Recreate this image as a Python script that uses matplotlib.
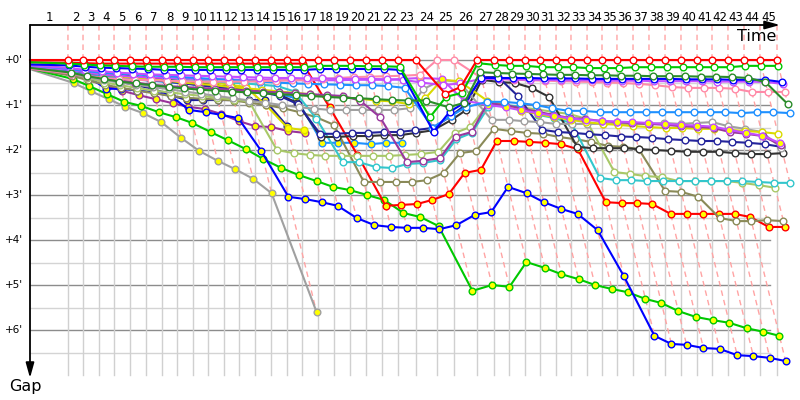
import matplotlib
matplotlib.use("Agg")
import matplotlib.pyplot as plt

# leader crossing time (minutes) at the end of each lap, index 0 = start
leader_time = [0.0,
    3.45, 4.82, 6.27, 7.64, 9.09, 10.55, 12.0, 13.36, 14.82, 16.18,
    17.64, 19.0, 20.45, 21.91, 23.36, 24.73, 26.18, 27.64, 29.09, 30.55,
    32.0, 33.45, 35.09, 37.0, 38.55, 40.64, 42.18, 43.55, 45.0, 46.36,
    47.82, 49.18, 50.64, 52.0, 53.36, 54.82, 56.27, 57.73, 59.18, 60.64,
    62.0, 63.45, 64.91, 66.36, 67.91]
laps = list(range(1, 46))
gap_ticks = [0, 1, 2, 3, 4, 5, 6]

# gap to the leader (minutes) per lap, index 0 = start
gap_red_w = [0.0,
    0, 0, 0, 0, 0, 0, 0, 0, 0, 0,
    0, 0, 0, 0, 0, 0, 0, 0, 0, 0,
    0, 0, 0, 0.75, 0.6, 0, 0, 0, 0, 0,
    0, 0, 0, 0, 0, 0, 0, 0, 0, 0,
    0, 0, 0, 0, 0]
gap_red_y = [0.05,
    0.06, 0.07, 0.08, 0.08, 0.08, 0.08, 0.08, 0.08, 0.08, 0.08,
    0.08, 0.08, 0.08, 0.08, 0.08, 0.08, 1.05, 2.1, 3.24, 3.22,
    3.2, 3.11, 2.98, 2.51, 2.44, 1.8, 1.8, 1.82, 1.84, 1.87,
    1.98, 3.16, 3.18, 3.18, 3.2, 3.42, 3.42, 3.42, 3.42, 3.42,
    3.49, 3.71, 3.71]
gap_green_w = [0.05,
    0.08, 0.1, 0.12, 0.13, 0.14, 0.15, 0.15, 0.15, 0.16, 0.16,
    0.16, 0.16, 0.16, 0.16, 0.16, 0.16, 0.13, 0.13, 0.13, 0.14,
    0.14, 0.15, 1.27, 0.82, 0.73, 0.07, 0.11, 0.13, 0.13, 0.16,
    0.16, 0.16, 0.18, 0.18, 0.18, 0.16, 0.16, 0.16, 0.16, 0.16,
    0.16, 0.16, 0.13, 0.13, 0.13]
gap_dkgreen_w = [0.18,
    0.28, 0.36, 0.42, 0.48, 0.52, 0.56, 0.6, 0.63, 0.66, 0.68,
    0.7, 0.72, 0.74, 0.76, 0.78, 0.8, 0.82, 0.84, 0.85, 0.87,
    0.89, 0.9, 0.9, 1.05, 0.95, 0.27, 0.29, 0.3, 0.31, 0.32,
    0.33, 0.33, 0.34, 0.34, 0.35, 0.35, 0.36, 0.36, 0.36, 0.37,
    0.37, 0.38, 0.4, 0.49, 0.98]
gap_blue_w = [0.1,
    0.12, 0.15, 0.17, 0.18, 0.19, 0.2, 0.22, 0.22, 0.22, 0.22,
    0.22, 0.22, 0.22, 0.22, 0.22, 0.22, 0.2, 0.2, 0.2, 0.2,
    0.2, 0.22, 1.6, 1.15, 0.95, 0.4, 0.4, 0.4, 0.4, 0.41,
    0.41, 0.41, 0.42, 0.42, 0.42, 0.42, 0.42, 0.42, 0.43, 0.43,
    0.43, 0.44, 0.44, 0.44, 0.49]
gap_navy_w = [0.15,
    0.22, 0.28, 0.32, 0.36, 0.4, 0.44, 0.48, 0.52, 0.56, 0.6,
    0.64, 0.68, 0.72, 0.8, 0.98, 1.64, 1.64, 1.62, 1.62, 1.6,
    1.6, 1.56, 1.51, 1.25, 1.0, 0.38, 0.38, 0.8, 1.55, 1.6,
    1.62, 1.65, 1.67, 1.7, 1.71, 1.73, 1.76, 1.78, 1.8, 1.8,
    1.82, 1.84, 1.87, 1.93]
gap_black_w = [0.13,
    0.2, 0.25, 0.3, 0.33, 0.36, 0.4, 0.44, 0.48, 0.52, 0.56,
    0.6, 0.65, 0.7, 0.78, 0.95, 1.71, 1.71, 1.69, 1.69, 1.67,
    1.67, 1.62, 1.56, 1.33, 1.11, 0.44, 0.49, 0.51, 0.62, 0.82,
    1.93, 1.96, 1.96, 1.96, 1.98, 2.0, 2.02, 2.04, 2.04, 2.04,
    2.07, 2.09, 2.09, 2.07]
gap_pink_w = [0.2,
    0.3, 0.35, 0.4, 0.42, 0.44, 0.45, 0.46, 0.47, 0.48, 0.48,
    0.48, 0.48, 0.47, 0.46, 0.45, 0.44, 0.42, 0.4, 0.38, 0.37,
    0.36, 0.35, 0.33, 0.0, 0.0, 0.4, 0.42, 0.44, 0.45, 0.46,
    0.47, 0.48, 0.49, 0.5, 0.51, 0.53, 0.56, 0.6, 0.62, 0.62,
    0.62, 0.64, 0.71, 0.71, 0.71]
gap_violet_w = [0.12,
    0.18, 0.22, 0.25, 0.28, 0.3, 0.32, 0.33, 0.34, 0.35, 0.36,
    0.37, 0.38, 0.39, 0.4, 0.4, 0.41, 0.41, 0.42, 0.42, 0.42,
    0.43, 0.44, 0.5, 0.56, 0.52, 0.42, 0.42, 0.43, 0.44, 0.44,
    0.45, 0.45, 0.45, 0.46, 0.46, 0.46, 0.47, 0.47, 0.47, 0.47,
    0.48, 0.48, 0.48, 0.49, 0.53]
gap_violet_y = [0.15,
    0.22, 0.28, 0.32, 0.35, 0.37, 0.39, 0.4, 0.41, 0.42, 0.43,
    0.43, 0.44, 0.44, 0.45, 0.45, 0.45, 0.45, 0.45, 0.44, 0.44,
    0.44, 0.42, 0.4, 0.42, 0.9, 1.0, 1.05, 1.12, 1.18, 1.24,
    1.3, 1.33, 1.35, 1.37, 1.38, 1.4, 1.42, 1.44, 1.46, 1.48,
    1.55, 1.62, 1.68, 1.85]
gap_purple_w = [0.2,
    0.3, 0.35, 0.4, 0.45, 0.5, 0.55, 0.58, 0.6, 0.62, 0.64,
    0.66, 0.68, 0.7, 0.72, 0.74, 0.76, 0.78, 0.8, 0.9, 1.27,
    2.27, 2.24, 2.18, 1.7, 1.6, 0.96, 1.0, 1.07, 1.15, 1.22,
    1.29, 1.31, 1.36, 1.38, 1.4, 1.42, 1.44, 1.47, 1.49, 1.51,
    1.6, 1.64, 1.69, 1.89]
gap_gray_w = [0.2,
    0.3, 0.38, 0.45, 0.5, 0.55, 0.6, 0.65, 0.7, 0.75, 0.8,
    0.85, 0.9, 0.95, 1.0, 1.05, 1.08, 1.11, 1.11, 1.11, 1.11,
    1.11, 1.07, 0.65, 0.44, 0.49, 1.33, 1.33, 1.36, 1.38, 1.42,
    1.42, 1.42, 1.42, 1.42, 1.42, 1.42, 1.4, 1.42, 1.4, 1.38,
    1.47, 1.53, 1.6, 1.95]
gap_yellow_w = [0.1,
    0.2, 0.27, 0.32, 0.36, 0.4, 0.43, 0.46, 0.5, 0.53, 0.56,
    0.6, 0.63, 0.66, 0.7, 0.73, 0.76, 0.8, 0.83, 0.86, 0.9,
    0.92, 0.98, 0.85, 0.44, 0.47, 0.9, 1.0, 1.13, 1.2, 1.27,
    1.33, 1.38, 1.42, 1.44, 1.47, 1.49, 1.51, 1.51, 1.53, 1.53,
    1.55, 1.58, 1.6, 1.64]
gap_dodger_w = [0.12,
    0.2, 0.25, 0.28, 0.3, 0.32, 0.34, 0.36, 0.38, 0.4, 0.42,
    0.44, 0.46, 0.48, 0.5, 0.52, 0.53, 0.54, 0.55, 0.56, 0.56,
    0.58, 0.62, 1.5, 1.25, 1.05, 0.93, 0.93, 0.96, 1.0, 1.07,
    1.13, 1.13, 1.16, 1.16, 1.16, 1.16, 1.16, 1.16, 1.16, 1.16,
    1.16, 1.18, 1.16, 1.16, 1.18]
gap_cyan_w = [0.15,
    0.25, 0.3, 0.33, 0.36, 0.38, 0.4, 0.42, 0.44, 0.46, 0.48,
    0.5, 0.52, 0.55, 0.58, 0.7, 1.3, 2.27, 2.27, 2.38, 2.4,
    2.31, 2.29, 2.22, 1.76, 1.62, 1.04, 1.0, 1.04, 1.22, 1.29,
    1.4, 2.62, 2.67, 2.67, 2.69, 2.69, 2.69, 2.69, 2.69, 2.69,
    2.69, 2.71, 2.73, 2.73]
gap_lolive_w = [0.18,
    0.3, 0.4, 0.5, 0.56, 0.62, 0.68, 0.72, 0.76, 0.8, 0.84,
    0.88, 0.92, 2.0, 2.07, 2.11, 2.13, 2.13, 2.13, 2.13, 2.13,
    2.11, 2.09, 2.04, 1.62, 1.49, 0.98, 1.0, 1.05, 1.1, 1.15,
    1.2, 1.3, 2.49, 2.53, 2.58, 2.6, 2.69, 2.69, 2.69, 2.69,
    2.73, 2.78, 2.84]
gap_olive_w = [0.2,
    0.35, 0.45, 0.55, 0.62, 0.68, 0.74, 0.8, 0.84, 0.86, 0.88,
    0.9, 0.95, 1.0, 1.07, 1.16, 1.27, 1.44, 2.71, 2.71, 2.71,
    2.71, 2.67, 2.51, 2.07, 2.02, 1.53, 1.58, 1.62, 1.64, 1.71,
    1.76, 1.82, 1.91, 1.93, 1.98, 2.91, 2.93, 3.04, 3.51, 3.58,
    3.58, 3.56, 3.58]
gap_green_y = [0.2,
    0.42, 0.58, 0.76, 0.93, 1.02, 1.16, 1.27, 1.4, 1.6, 1.78,
    1.98, 2.2, 2.4, 2.56, 2.69, 2.82, 2.89, 3.0, 3.11, 3.4,
    3.49, 3.69, 5.13, 5.0, 5.04, 4.49, 4.62, 4.76, 4.87, 5.0,
    5.09, 5.16, 5.31, 5.4, 5.58, 5.71, 5.78, 5.84, 5.96, 6.04,
    6.13]
gap_blue_y = [0.12,
    0.22, 0.35, 0.64, 0.64, 0.68, 0.72, 0.8, 1.11, 1.16, 1.22,
    1.29, 2.02, 3.04, 3.09, 3.16, 3.24, 3.51, 3.67, 3.71, 3.73,
    3.73, 3.76, 3.67, 3.44, 3.38, 2.82, 2.96, 3.16, 3.31, 3.42,
    3.78, 4.8, 6.13, 6.31, 6.33, 6.4, 6.42, 6.56, 6.58, 6.62,
    6.69]
gap_gray_y = [0.22, 0.51, 0.69, 0.87, 1.04, 1.18, 1.38, 1.73, 2.02, 2.24, 2.42, 2.64, 2.96, 5.6]
gap_navy_y = [0.15, 0.25, 0.35, 0.42, 0.48, 0.56, 0.64, 0.78, 0.89, 0.89, 0.89, 0.89, 0.89, 0.89, 1.47]
gap_purple_y = [0.18, 0.3, 0.44, 0.56, 0.68, 0.78, 0.87, 0.96, 1.04, 1.09, 1.2, 1.36, 1.47, 1.49, 1.58, 1.62]
gap_yellow_y = [0.12, 0.25, 0.35, 0.4, 0.42, 0.43, 0.44, 0.45, 0.46, 0.47, 0.5, 0.55, 0.6, 1.0, 1.51, 1.56]
gap_dodger_y = [0.15, 0.25, 0.32, 0.37, 0.4, 0.43, 0.46, 0.49, 0.52, 0.55, 0.58, 0.61, 0.65, 0.7,
                0.76, 0.85, 1.84, 1.84, 1.84, 1.87, 1.84, 1.84]

YEL = "#ffff00"
WHT = "#ffffff"
drivers = [
    (gap_gray_y, "#a0a0a0", YEL),
    (gap_navy_y, "#1c1c9c", YEL),
    (gap_purple_y, "#993399", YEL),
    (gap_yellow_y, "#dada00", YEL),
    (gap_dodger_y, "#1e90ff", YEL),
    (gap_green_y, "#00c800", YEL),
    (gap_blue_y, "#0000ff", YEL),
    (gap_red_y, "#ff0000", YEL),
    (gap_olive_w, "#8a8a58", WHT),
    (gap_lolive_w, "#a8c868", WHT),
    (gap_cyan_w, "#33c6cc", WHT),
    (gap_black_w, "#333333", WHT),
    (gap_navy_w, "#23239b", WHT),
    (gap_gray_w, "#a0a0a0", WHT),
    (gap_yellow_w, "#dada00", WHT),
    (gap_purple_w, "#99389e", WHT),
    (gap_violet_y, "#c44dff", YEL),
    (gap_dodger_w, "#1e90ff", WHT),
    (gap_pink_w, "#ff8aa8", WHT),
    (gap_violet_w, "#c44dff", WHT),
    (gap_blue_w, "#0000ff", WHT),
    (gap_dkgreen_w, "#2a8c2a", WHT),
    (gap_green_w, "#00c800", WHT),
    (gap_red_w, "#ff0000", WHT),
]


def px_x(p):
    return (p - 30) / 11.0


def px_y(p):
    return (p - 60) / 45.0


fig = plt.figure(figsize=(8, 4), dpi=100)
ax = fig.add_axes([0, 0, 1, 1])
ax.set_xlim(px_x(0), px_x(800))
ax.set_ylim(px_y(400), px_y(0))
ax.axis("off")

top = px_y(25)

# grid
for g in range(0, 7):
    ax.plot([0, px_x(770)], [g + 0.5, g + 0.5], color="#d4d4d4", lw=1, zorder=1)
    ax.plot([0, px_x(770)], [g, g], color="#8c8c8c", lw=1, zorder=1)
for t in leader_time[1:]:
    ax.plot([t, t], [0, px_y(375)], color="#d0d0d0", lw=1, zorder=1)

# lap lines (all cars crossing the line on the same lap)
for n in laps:
    gmax = max(d[0][n] for d in drivers if len(d[0]) > n)
    t = leader_time[n]
    ax.plot([t, t, t + gmax], [top, 0, gmax], color="#ffa4a4", lw=1,
            ls=(0, (4, 3)), zorder=2)

for gaps, col, fill in drivers:
    xs = [leader_time[i] + g for i, g in enumerate(gaps)]
    ax.plot(xs, gaps, color=col, lw=1.5, marker="o", ms=4.8, mfc=fill, mec=col,
            mew=1, markevery=list(range(1, len(gaps))), zorder=3)

# axes with arrows
ax.annotate("", xy=(px_x(780), top), xytext=(0, top),
            arrowprops=dict(arrowstyle="-|>,head_length=0.9,head_width=0.25",
                            color="black", lw=1.3, shrinkA=0, shrinkB=0), zorder=5)
ax.annotate("", xy=(0, px_y(378)), xytext=(0, top),
            arrowprops=dict(arrowstyle="-|>,head_length=0.9,head_width=0.25",
                            color="black", lw=1.3, shrinkA=0, shrinkB=0), zorder=5)

for n in laps:
    ax.text((leader_time[n - 1] + leader_time[n]) / 2, px_y(17), str(n),
            ha="center", va="center", fontsize=8.5)
for g in gap_ticks:
    ax.text(px_x(23), g, "+%d'" % g, ha="right", va="center", fontsize=7.5)

ax.text(px_x(776), px_y(36), "Time", ha="right", va="center", fontsize=11.5)
ax.text(px_x(25), px_y(386), "Gap", ha="center", va="center", fontsize=11.5)

fig.savefig("out.png", dpi=100)
